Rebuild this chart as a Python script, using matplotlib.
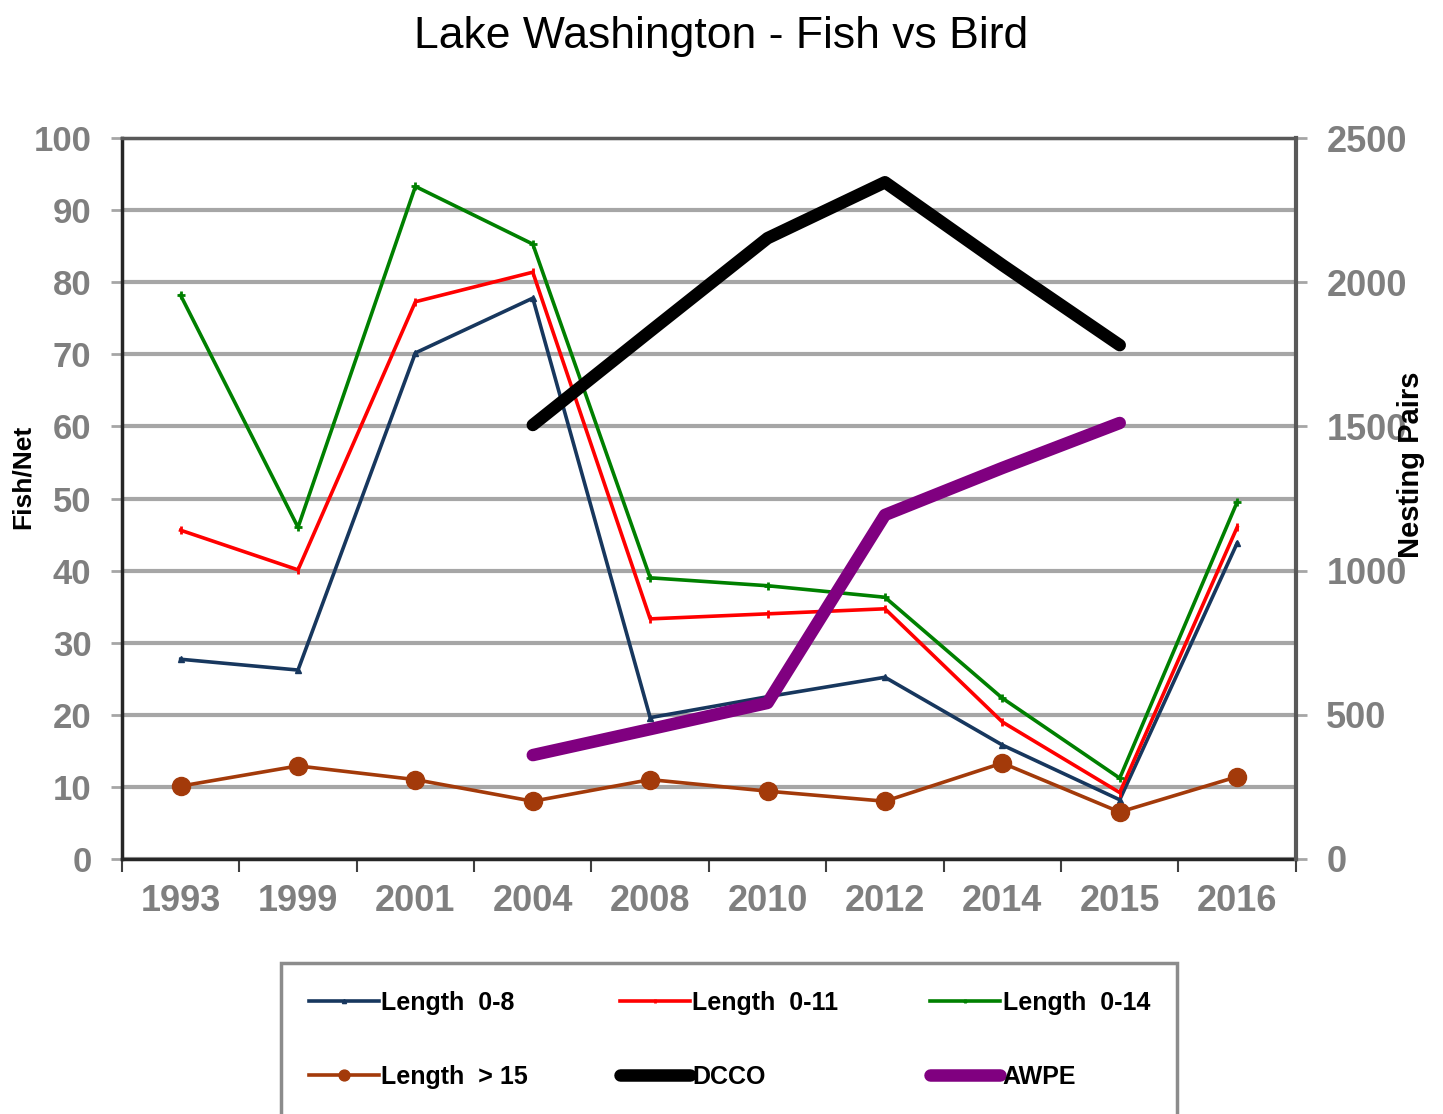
import numpy as np
import matplotlib
matplotlib.use('Agg')
import matplotlib.pyplot as plt
from matplotlib.ticker import MultipleLocator, FixedLocator

# data
years = ['1993', '1999', '2001', '2004', '2008', '2010', '2012', '2014', '2015', '2016']
len_0_8 = [27.7, 26.2, 70.2, 77.8, 19.6, 22.5, 25.2, 15.8, 8.2, 43.8]
len_0_11 = [45.6, 40.1, 77.3, 81.4, 33.3, 34.0, 34.7, 19.0, 9.2, 46.0]
len_0_14 = [78.2, 46.0, 93.3, 85.3, 39.0, 37.9, 36.3, 22.3, 11.2, 49.5]
len_15 = [10.1, 12.9, 11.0, 8.0, 11.0, 9.4, 8.0, 13.3, 6.5, 11.4]
bird_years = ['2004', '2008', '2010', '2012', '2014', '2015']
dcco = [1505, 1830, 2153, 2347, 2060, 1782]
awpe = [360, 450, 541, 1193, 1356, 1512]

plt.rcParams['font.family'] = ['Liberation Sans', 'DejaVu Sans']
narrow = ['Liberation Sans Narrow', 'Liberation Sans', 'DejaVu Sans']
tick_grey = '#7f7f7f'

fig = plt.figure(figsize=(14.43, 11.14), dpi=100)
ax = fig.add_axes([0.0845, 0.229, 0.8135, 0.647])
ax2 = ax.twinx()

x = np.arange(len(years))
bx = np.array([years.index(y) for y in bird_years])

l1, = ax.plot(x, len_0_8, color='#17375e', lw=2.6, marker='^', ms=5, zorder=4)
l2, = ax.plot(x, len_0_11, color='#ff0000', lw=2.6, marker='|', ms=6, mew=2, zorder=4)
l3, = ax.plot(x, len_0_14, color='#008000', lw=2.6, marker='+', ms=6, mew=2, zorder=4)
l4, = ax.plot(x, len_15, color='#a33a0a', lw=2.6, marker='o', ms=13, zorder=4)
l5, = ax2.plot(bx, dcco, color='black', lw=9, solid_capstyle='round', zorder=5)
l6, = ax2.plot(bx, awpe, color='#800080', lw=9, solid_capstyle='round', zorder=5)

ax.set_xlim(-0.5, len(years) - 0.5)
ax.set_ylim(0, 100)
ax2.set_ylim(0, 2500)

ax.yaxis.set_major_locator(MultipleLocator(10))
ax.grid(axis='y', color='#a6a6a6', lw=3)
ax.set_axisbelow(True)
ax.set_xticks(x)
ax.set_xticklabels(years)
ax.xaxis.set_minor_locator(FixedLocator(np.arange(-0.5, len(years), 1)))
ax.tick_params(axis='x', which='major', length=0, pad=18)
ax.tick_params(axis='x', which='minor', length=9, width=1.5, color='#404040')
ax.tick_params(axis='y', length=8, width=2, color='#a6a6a6', pad=14)
for lab in ax.get_yticklabels():
    lab.set_fontsize(25)
    lab.set_fontweight('bold')
    lab.set_color(tick_grey)
for lab in ax.get_xticklabels():
    lab.set_fontsize(26)
    lab.set_fontweight('bold')
    lab.set_color(tick_grey)

ax2.yaxis.set_major_locator(MultipleLocator(500))
ax2.yaxis.set_minor_locator(MultipleLocator(250))
ax2.tick_params(axis='y', which='major', length=8, width=2, color='#a6a6a6', pad=14)
ax2.tick_params(axis='y', which='minor', length=0)
for lab in ax2.get_yticklabels():
    lab.set_fontsize(26)
    lab.set_fontweight('bold')
    lab.set_color(tick_grey)

ax.spines['left'].set_color('#262626')
ax.spines['left'].set_linewidth(2.5)
ax.spines['bottom'].set_color('#262626')
ax.spines['bottom'].set_linewidth(2.5)
ax.spines['top'].set_color('#595959')
ax.spines['top'].set_linewidth(2.5)
ax2.spines['right'].set_color('#595959')
ax2.spines['right'].set_linewidth(3)
for s in ['left', 'bottom', 'top']:
    ax2.spines[s].set_visible(False)

fig.text(0.016, 0.572, 'Fish/Net', rotation=90, fontsize=19, fontweight='bold',
         family=narrow, ha='center', va='center')
fig.text(0.978, 0.583, 'Nesting Pairs', rotation=90, fontsize=21, fontweight='bold',
         family=narrow, ha='center', va='center')

fig.suptitle('Lake Washington - Fish vs Bird', fontsize=32, y=0.986)

handles = [l1, l4, l2, l5, l3, l6]
labels = ['Length  0-8', 'Length  > 15', 'Length  0-11', 'DCCO', 'Length  0-14', 'AWPE']
leg = fig.legend(handles, labels, ncol=3, loc='upper left',
                 bbox_to_anchor=(0.195, -0.1, 0.621, 0.2355), mode='expand',
                 prop={'family': narrow, 'weight': 'bold', 'size': 18},
                 handlelength=2.8, handletextpad=0.1, labelspacing=2.0,
                 borderpad=1.1, borderaxespad=0, fancybox=False, markerscale=0.6,
                 framealpha=1)
leg.get_frame().set_edgecolor('#8c8c8c')
leg.get_frame().set_linewidth(2.5)

fig.savefig('out.png', dpi=100)
